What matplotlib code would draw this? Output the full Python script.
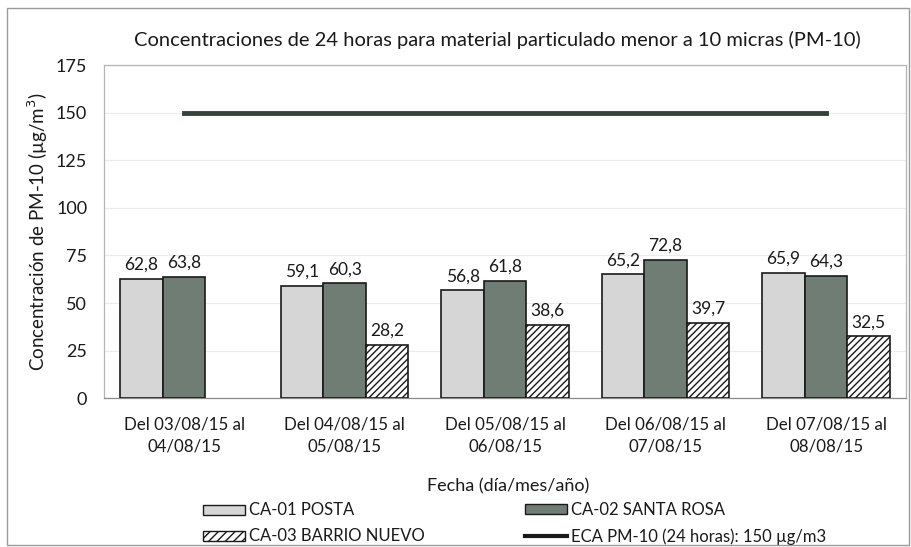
import numpy as np
import matplotlib
matplotlib.use('Agg')
import matplotlib.pyplot as plt
from matplotlib.patches import Rectangle
from matplotlib.lines import Line2D

plt.rcParams['font.family'] = ['Lato', 'DejaVu Sans']
plt.rcParams['hatch.linewidth'] = 1.0

# categories (x axis)
categories = ['Del 03/08/15 al\n04/08/15', 'Del 04/08/15 al\n05/08/15',
              'Del 05/08/15 al\n06/08/15', 'Del 06/08/15 al\n07/08/15',
              'Del 07/08/15 al\n08/08/15']
# series values
posta = [62.8, 59.1, 56.8, 65.2, 65.9]
santa_rosa = [63.8, 60.3, 61.8, 72.8, 64.3]
barrio_nuevo = [np.nan, 28.2, 38.6, 39.7, 32.5]
eca = [150, 150, 150, 150, 150]
yticks = [0, 25, 50, 75, 100, 125, 150, 175]

fig = plt.figure(figsize=(9.11, 5.47), dpi=100)
ax = fig.add_axes([0.114, 0.272, 0.881, 0.609])

x = np.arange(len(categories))
w = 0.265
b1 = ax.bar(x - w, posta, w, color='#d6d6d6', edgecolor='#1a1a1a', linewidth=1.2, zorder=3)
b2 = ax.bar(x, santa_rosa, w, color='#6f7d74', edgecolor='#1a1a1a', linewidth=1.2, zorder=3)
b3 = ax.bar(x + w, barrio_nuevo, w, color='white', edgecolor='#1a1a1a', linewidth=1.2,
            hatch='/////', zorder=3)
ln, = ax.plot(x, eca, color='#34423a', linewidth=3.5, zorder=4)

def fmt(v):
    return ('%.1f' % v).replace('.', ',')

for bars, vals in [(b1, posta), (b2, santa_rosa), (b3, barrio_nuevo)]:
    for r, v in zip(bars, vals):
        if np.isnan(v):
            continue
        ax.text(r.get_x() + r.get_width() / 2, v + 3, fmt(v), ha='center', va='bottom',
                fontsize=12.5, color='#1a1a1a')

ax.set_xlim(-0.5, len(categories) - 0.5)
ax.set_ylim(0, 175)
ax.set_yticks(yticks)
ax.set_yticklabels([str(t) for t in yticks], fontsize=13, color='#1a1a1a')
ax.set_xticks(x)
ax.set_xticklabels(categories, fontsize=12.2, color='#1a1a1a', linespacing=1.45)
ax.tick_params(axis='x', length=0, pad=13)
ax.tick_params(axis='y', length=0, pad=12)
ax.grid(axis='y', color='#ececec', linewidth=0.8, zorder=0)
for s in ax.spines.values():
    s.set_color('#b5b5b5')
    s.set_linewidth(0.9)
ax.spines['bottom'].set_color('#8a8a8a')

ax.set_title('Concentraciones de 24 horas para material particulado menor a 10 micras (PM-10)',
             fontsize=14.5, color='#1a1a1a', pad=14, x=0.49)
ax.set_ylabel('Concentración de PM-10 (µg/m$^3$)', fontsize=13.5, color='#1a1a1a', labelpad=4)
fig.text(0.558, 0.11, 'Fecha (día/mes/año)', ha='center', va='center', fontsize=13, color='#1a1a1a')

h1 = Rectangle((0, 0), 1, 1, facecolor='#d6d6d6', edgecolor='#1a1a1a', linewidth=1)
h2 = Rectangle((0, 0), 1, 1, facecolor='#6f7d74', edgecolor='#1a1a1a', linewidth=1)
h3 = Rectangle((0, 0), 1, 1, facecolor='white', edgecolor='#1a1a1a', linewidth=1, hatch='////')
h4 = Line2D([0], [0], color='#1a1a1a', linewidth=3)
leg_kw = dict(loc='center left', frameon=False, fontsize=12, handlelength=2.5,
              handleheight=0.55, handletextpad=0.25, labelspacing=0.6, borderaxespad=0,
              borderpad=0)
leg1 = fig.legend([h1, h3], ['CA-01 POSTA', 'CA-03 BARRIO NUEVO'],
                  bbox_to_anchor=(203 / 911, 0.043), **leg_kw)
leg2 = fig.legend([h2, h4], ['CA-02 SANTA ROSA', 'ECA PM-10 (24 horas): 150 µg/m3'],
                  bbox_to_anchor=(525 / 911, 0.043), **leg_kw)
for leg in (leg1, leg2):
    for t in leg.get_texts():
        t.set_color('#1a1a1a')

# outer frame of the chart area
fig.add_artist(Rectangle((0.008, 0.003), 0.99, 0.982, transform=fig.transFigure,
                         fill=False, edgecolor='#9a9a9a', linewidth=1.0))

fig.savefig('out.png', dpi=100)
